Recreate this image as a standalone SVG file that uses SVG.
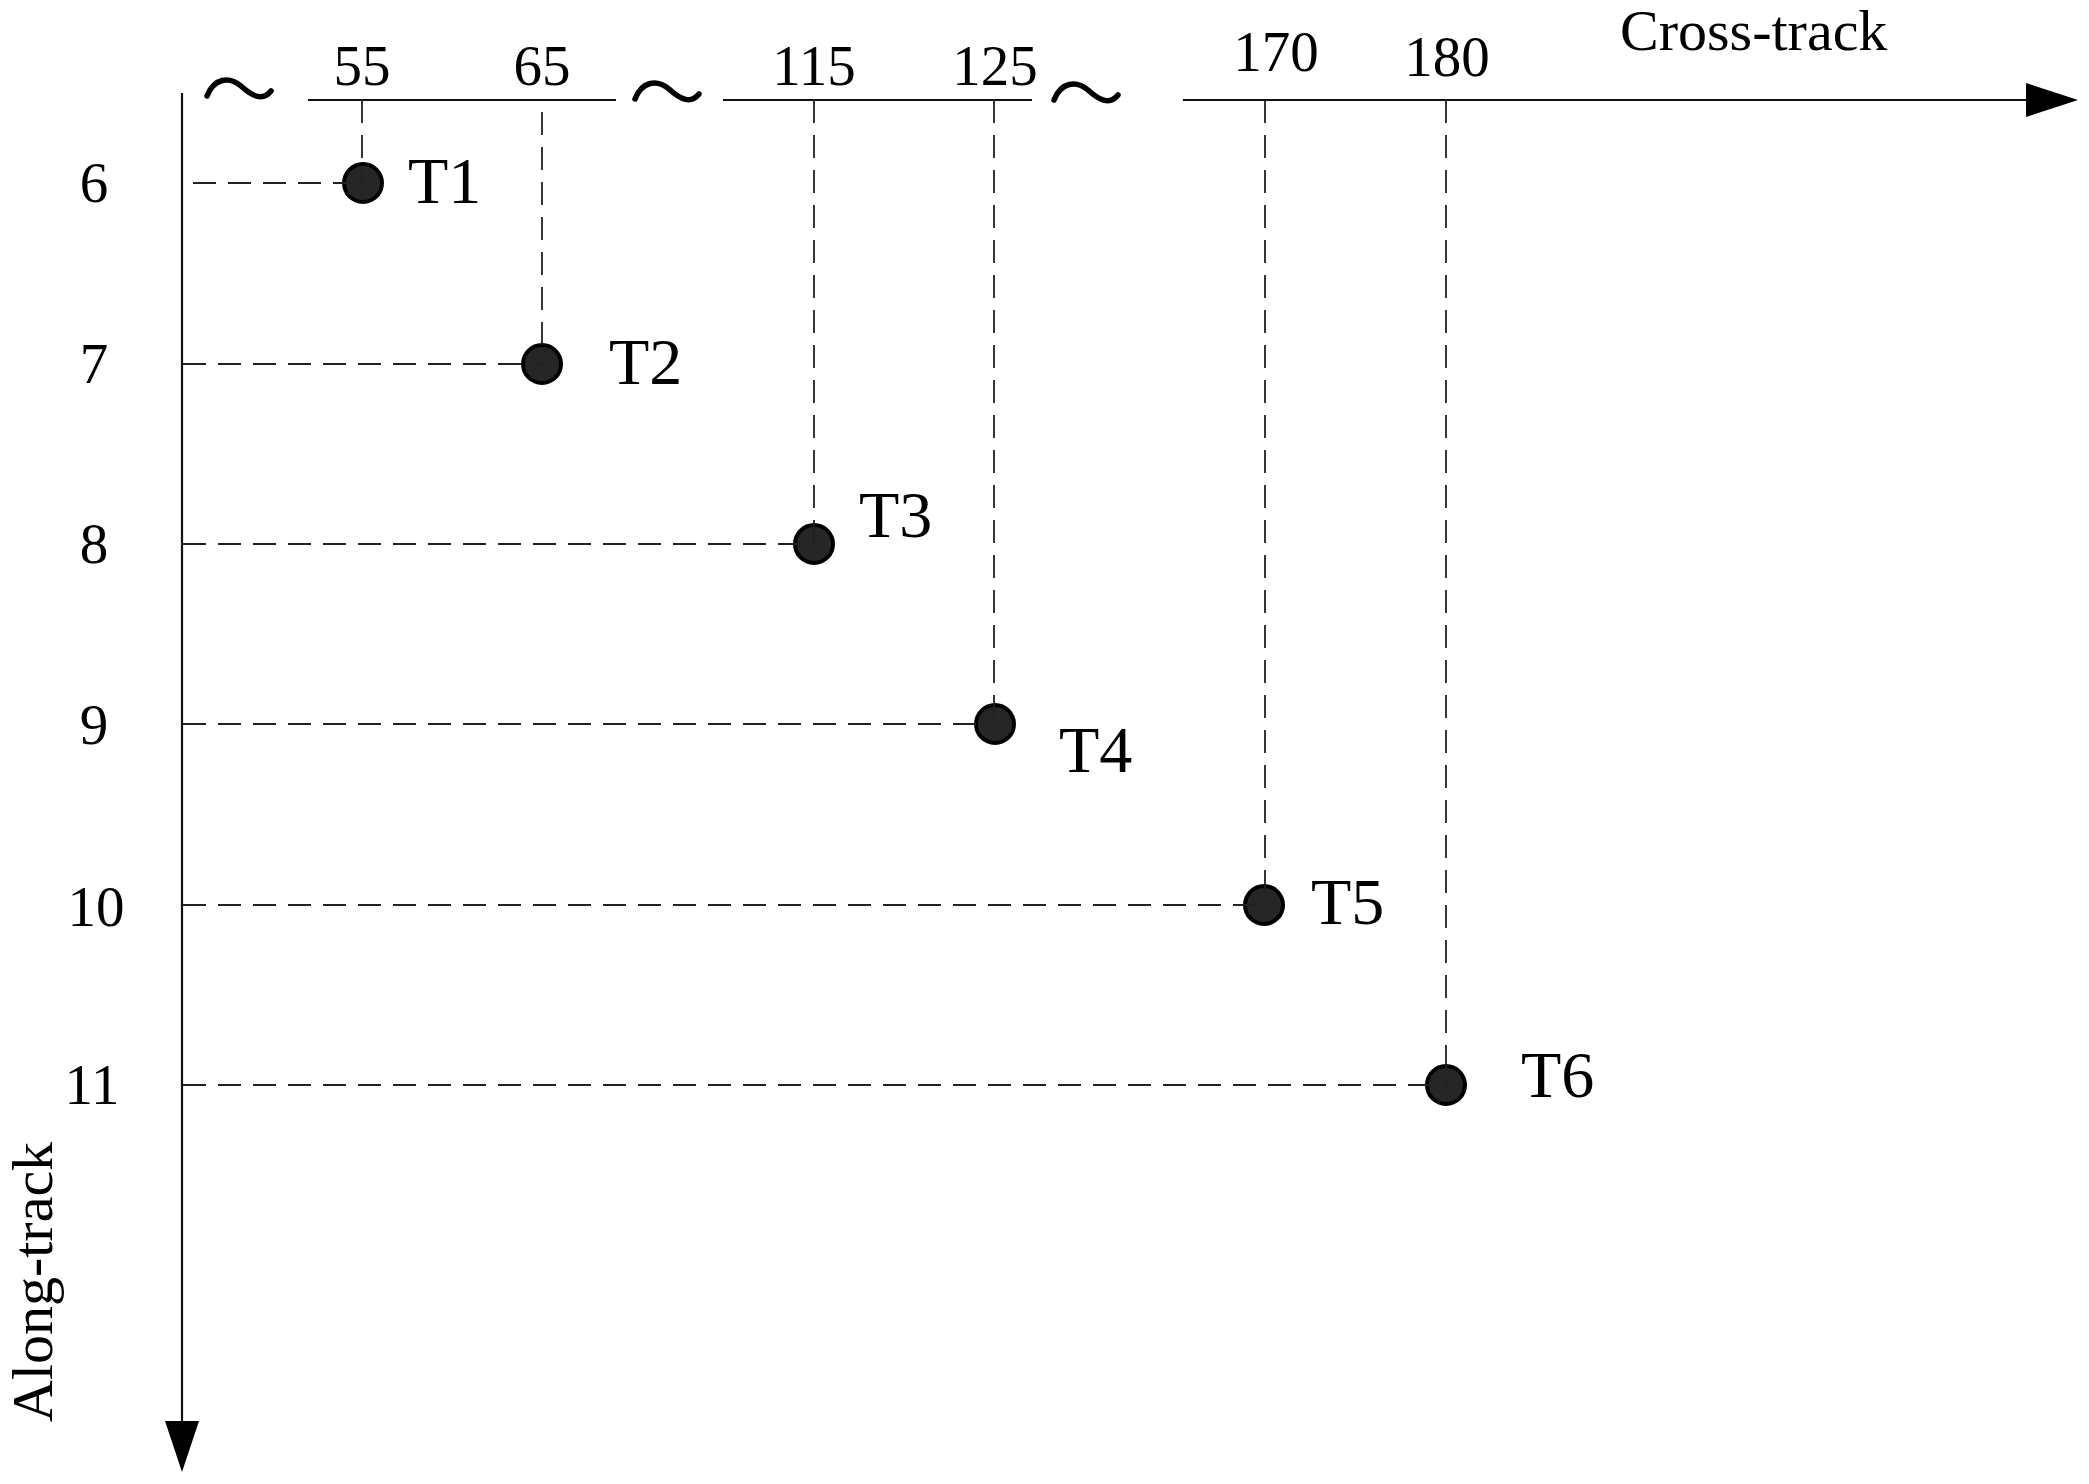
<svg xmlns="http://www.w3.org/2000/svg" width="2089" height="1484" viewBox="0 0 2089 1484">
<style>
  text { font-family: "Liberation Serif", "Times New Roman", serif; fill: #000; }
  .tick { font-size: 57px; text-anchor: middle; }
  .row { font-size: 57px; text-anchor: middle; }
  .tl { font-size: 66px; }
  .axl { font-size: 58px; }
  .axis { stroke: #111; stroke-width: 2.2; fill: none; }
  .dash { stroke: #222; stroke-width: 1.8; fill: none; stroke-dasharray: 23 12; }
  .brk { stroke: #000; stroke-width: 5.5; fill: none; stroke-linecap: round; }
  .pt { fill: #262626; stroke: #000; stroke-width: 4; }
</style>
<rect width="2089" height="1484" fill="#fff"/>

<g id="axes">
  <line class="axis" x1="182" y1="93" x2="182" y2="1424"/>
  <polygon points="165,1421 199,1421 182,1472" fill="#000"/>
  <line class="axis" x1="308" y1="100" x2="616" y2="100"/>
  <line class="axis" x1="723" y1="100" x2="1032" y2="100"/>
  <line class="axis" x1="1183" y1="100" x2="2028" y2="100"/>
  <polygon points="2026,83 2026,117 2078,100" fill="#000"/>
  <path class="brk" d="M207,96 C214,78 229,76 241,86 C253,97 263,101 271,91"/>
  <path class="brk" d="M635,99 C642,81 657,79 669,89 C681,100 691,104 699,94"/>
  <path class="brk" d="M1054,100 C1061,82 1076,80 1088,90 C1100,101 1110,105 1118,95"/>
  <text class="axl" x="1620" y="50">Cross-track</text>
  <text class="axl" text-anchor="middle" transform="translate(52,1282) rotate(-90)">Along-track</text>
</g>

<g id="ticks">
  <text class="tick" x="362" y="85">55</text>
  <text class="tick" x="542" y="85">65</text>
  <text class="tick" x="814" y="85">115</text>
  <text class="tick" x="995" y="85">125</text>
  <text class="tick" x="1276" y="71">170</text>
  <text class="tick" x="1447" y="76">180</text>
  <text class="row" x="94" y="202">6</text>
  <text class="row" x="94" y="383">7</text>
  <text class="row" x="94" y="563">8</text>
  <text class="row" x="94" y="744">9</text>
  <text class="row" x="96" y="926">10</text>
  <text class="row" x="92" y="1104">11</text>
</g>

<g id="T1"><circle class="pt" cx="363" cy="183" r="19"/><text class="tl" x="408" y="203">T1</text></g>
<g id="T2"><circle class="pt" cx="542" cy="364" r="19"/><text class="tl" x="609" y="384">T2</text></g>
<g id="T3"><circle class="pt" cx="814" cy="544" r="19"/><text class="tl" x="859" y="537">T3</text></g>
<g id="T4"><circle class="pt" cx="995" cy="724" r="19"/><text class="tl" x="1059" y="772">T4</text></g>
<g id="T5"><circle class="pt" cx="1264" cy="905" r="19"/><text class="tl" x="1311" y="924">T5</text></g>
<g id="T6"><circle class="pt" cx="1446" cy="1085" r="19"/><text class="tl" x="1521" y="1097">T6</text></g>

<g id="connectors">
  <line class="dash" x1="193" y1="183" x2="363" y2="183"/>
  <line class="dash" x1="183" y1="364" x2="542" y2="364"/>
  <line class="dash" x1="183" y1="544" x2="814" y2="544"/>
  <line class="dash" x1="183" y1="724" x2="995" y2="724"/>
  <line class="dash" x1="183" y1="905" x2="1264" y2="905"/>
  <line class="dash" x1="183" y1="1085" x2="1446" y2="1085"/>
  <line class="dash" x1="362" y1="100" x2="362" y2="183"/>
  <line class="dash" x1="542" y1="100" x2="542" y2="364" stroke-dashoffset="23"/>
  <line class="dash" x1="814" y1="100" x2="814" y2="544"/>
  <line class="dash" x1="994" y1="100" x2="994" y2="724"/>
  <line class="dash" x1="1265" y1="100" x2="1265" y2="905"/>
  <line class="dash" x1="1446" y1="100" x2="1446" y2="1085"/>
</g>
</svg>
